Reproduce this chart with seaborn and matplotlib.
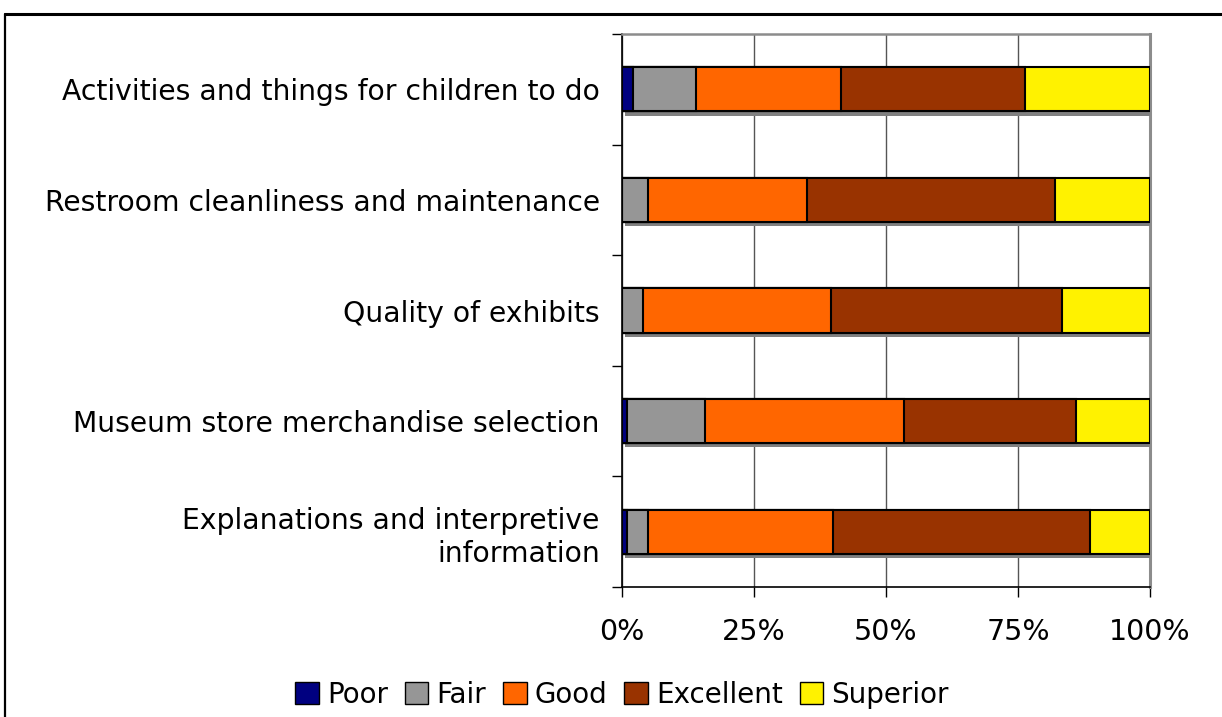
import numpy as np
import pandas as pd
import matplotlib
matplotlib.use("Agg")
import matplotlib.pyplot as plt
import matplotlib.patheffects as pe
from matplotlib.patches import Patch
from matplotlib.lines import Line2D
import seaborn as sns

categories = ["Activities and things for children to do",
              "Restroom cleanliness and maintenance",
              "Quality of exhibits",
              "Museum store merchandise selection",
              "Explanations and interpretive\ninformation"]
series_names = ["Poor", "Fair", "Good", "Excellent", "Superior"]
poor = [2, 0, 0, 1, 1]
fair = [12, 5, 4, 14.7, 4]
good = [27.5, 30, 35.5, 37.8, 35]
excellent = [34.8, 47, 43.8, 32.5, 48.6]
superior = [23.7, 18, 16.7, 14, 11.4]
x_ticks = [0, 25, 50, 75, 100]
x_tick_labels = ["0%", "25%", "50%", "75%", "100%"]
colors = ["#000080", "#969696", "#FF6600", "#993300", "#FFF200"]

sns.set_theme(style="white")
plt.rcParams['font.family'] = ['DejaVu Sans']
plt.rcParams['text.color'] = 'black'
plt.rcParams['xtick.color'] = 'black'
plt.rcParams['ytick.color'] = 'black'

fig = plt.figure(figsize=(12.22, 7.17), dpi=100)
ax = fig.add_axes([622/1222, 1-587/717, (1150-622)/1222, (587-34)/717])

series = [poor, fair, good, excellent, superior]
cum = np.cumsum(np.array(series, dtype=float), axis=0)

# draw cumulative layers from the widest to the narrowest
for i in range(len(series)-1, -1, -1):
    df = pd.DataFrame({"cat": categories, "val": cum[i]})
    n_before = len(ax.patches)
    sns.barplot(data=df, x="val", y="cat", orient="h", color=colors[i],
                saturation=1, width=0.4, edgecolor="black", linewidth=1.5,
                ax=ax, zorder=3)
    if i == len(series)-1:
        for p in ax.patches[n_before:]:
            p.set_path_effects([pe.SimplePatchShadow(offset=(2.2, -3.0), shadow_rgbFace="#808080", alpha=1.0),
                                pe.Normal()])

ax.set_xlim(0, 100)
ax.set_ylim(4.5, -0.5)
ax.set_xticks(x_ticks)
ax.set_xticklabels(x_tick_labels, fontsize=20.5, color="black")
ax.set_yticks(np.arange(len(categories)))
ax.set_yticklabels(categories, fontsize=20.3, ha="right", color="black", linespacing=1.25)
ax.set_xlabel("")
ax.set_ylabel("")

# grid
ax.set_axisbelow(True)
ax.xaxis.grid(True, color="#555555", linewidth=1.0, zorder=0)
ax.yaxis.grid(False)

# spines
for s in ["left", "bottom"]:
    ax.spines[s].set_color("black")
    ax.spines[s].set_linewidth(1.2)
ax.spines["top"].set_color("#8c8c8c")
ax.spines["top"].set_linewidth(1.8)
ax.spines["right"].set_color("#8c8c8c")
ax.spines["right"].set_linewidth(2.2)

# ticks
ax.tick_params(axis="y", which="major", length=0, pad=16)
ax.set_yticks(np.arange(-0.5, len(categories), 1.0), minor=True)
ax.tick_params(axis="y", which="minor", length=7, width=1, color="black", left=True)
ax.tick_params(axis="x", which="major", length=7, width=1, color="black", bottom=True, pad=15)

# legend
handles = [Patch(facecolor=c, edgecolor="black", linewidth=1.0, label=n) for c, n in zip(colors, series_names)]
fig.legend(handles=handles, loc="center", bbox_to_anchor=(622/1222, 1-695/717), ncol=5,
           frameon=False, fontsize=20, handlelength=0.85, handleheight=0.85,
           handletextpad=0.3, columnspacing=0.6, borderaxespad=0)

# outer frame
fig.add_artist(Line2D([5/1222, 1], [1-14/717, 1-14/717], color="black", linewidth=2.2, transform=fig.transFigure))
fig.add_artist(Line2D([5/1222, 5/1222], [0, 1-14/717], color="black", linewidth=1.6, transform=fig.transFigure))

fig.savefig("out.png", dpi=100)
